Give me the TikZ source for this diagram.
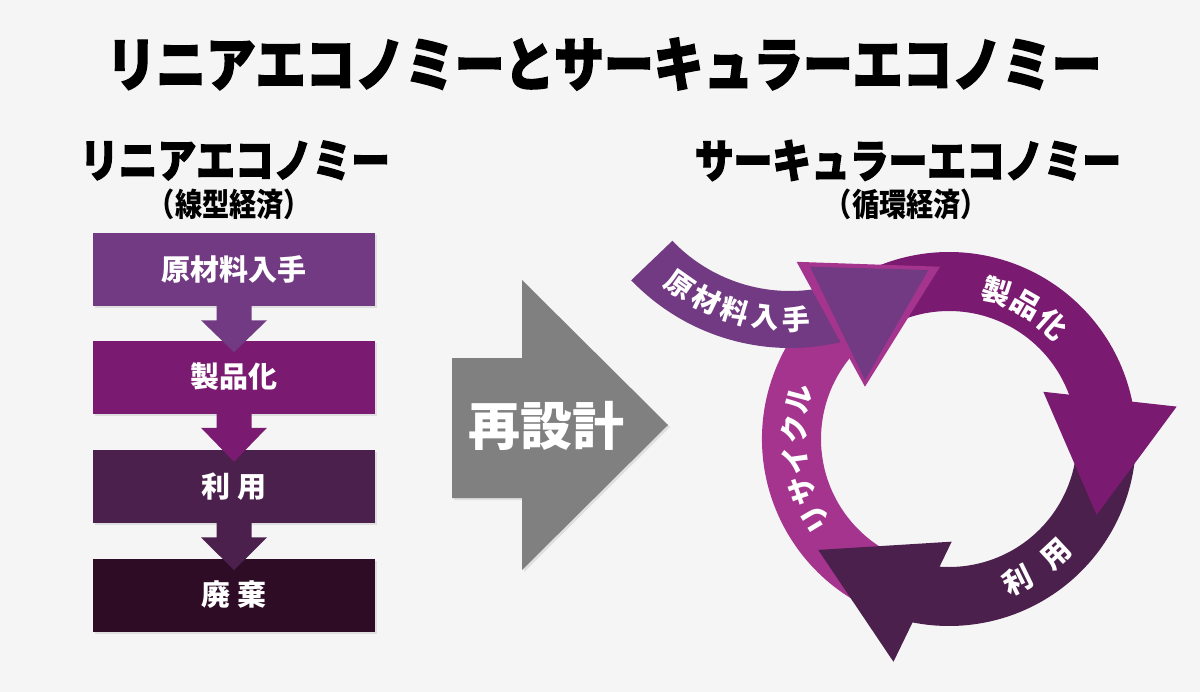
\documentclass[tikz,border=0pt]{standalone}
\usepackage{fontspec}
\setmainfont{Noto Sans CJK JP}
\newfontfamily\headfont{Noto Sans CJK JP}[FakeStretch=0.85, BoldFeatures={FakeBold=2.5}]
\newfontfamily\subfont{Noto Sans CJK JP}[FakeStretch=0.85]
\usetikzlibrary{calc,shadows}
\definecolor{bgGray}{RGB}{245,245,245}
\definecolor{colRaw}{RGB}{114,58,130}
\definecolor{colMake}{RGB}{123,26,113}
\definecolor{colUse}{RGB}{76,32,77}
\definecolor{colWaste}{RGB}{46,12,38}
\definecolor{colRecycle}{RGB}{165,52,143}
\definecolor{colRedesign}{RGB}{128,128,128}
\tikzset{
  softshadow/.style={drop shadow={opacity=0.18, shadow xshift=1.5pt, shadow yshift=-1.5pt}},
  stepbox/.style={minimum width=211.5pt, minimum height=54.75pt, inner sep=0pt, text=white,
    softshadow, font=\bfseries\fontsize{21.75}{26}\selectfont},
  titletext/.style={inner sep=0pt, font=\headfont\bfseries\fontsize{43.9}{50}\selectfont},
  headtext/.style={inner sep=0pt, font=\headfont\bfseries\fontsize{34.2}{40}\selectfont},
  subtext/.style={inner sep=0pt, font=\subfont\bfseries\fontsize{24}{28}\selectfont},
  ringtext/.style={inner sep=0pt, text=white, font=\bfseries\fontsize{21.75}{26}\selectfont},
  bandtext/.style={inner sep=0pt, text=white, font=\bfseries\fontsize{21}{25}\selectfont},
}
\begin{document}
\begin{tikzpicture}[x=0.75pt,y=0.75pt,yscale=-1,xscale=1]
%Background
\fill[bgGray] (0,0) rectangle (1200,692);
\useasboundingbox (0,0) rectangle (1200,692);

% Text Node
\node[titletext] (title) at (604,64) {リニアエコノミーとサーキュラーエコノミー};
% Text Node
\node[headtext] (linearhead) at (235,160.5) {リニアエコノミー};
\node[subtext] (linearsub) at (229.5,204) {（線型経済）};
% Text Node
\node[headtext] (circularhead) at (908,160.5) {サーキュラーエコノミー};
\node[subtext] (circularsub) at (906.5,204) {（循環経済）};

%Shape: Linear steps
\node[stepbox, fill=colRaw] (raw) at (234,269.5) {原材料入手};
\node[stepbox, fill=colMake] (make) at (234,377) {製品化};
\node[stepbox, fill=colUse] (use) at (234,486.5) {利 用};
\node[stepbox, fill=colWaste] (waste) at (234,595) {廃 棄};
\foreach \a/\b/\c in {raw/make/colRaw, make/use/colMake, use/waste/colUse}
  \fill[\c] ($(\a.south)+(-17.5,-1)$) -- ($(\a.south)+(-17.5,14)$) -- ($(\a.south)+(-33,14)$)
    -- ($(\b.north)+(0,12)$) -- ($(\a.south)+(33,14)$) -- ($(\a.south)+(17.5,14)$)
    -- ($(\a.south)+(17.5,-1)$) -- cycle;

%Shape: Redesign arrow
\fill[colRedesign, softshadow] (452,358) -- (522,358) -- (522,280) -- (668,425) -- (522,570) -- (522,498) -- (452,498) -- cycle;
% Text Node
\node[inner sep=0pt, text=white, font=\bfseries\fontsize{39}{44}\selectfont] (redesign) at (546,426) {再設計};

%Shape: Cycle arrows, bodies
\begin{scope}[shift={(949,439)}, yscale=-1]
  \foreach \s/\e/\c in {250/131.7/colRecycle, 122/9.1/colMake, 0/-103/colUse}
    \fill[\c] (\s:187) arc[start angle=\s, end angle=\e, radius=187] -- (\e:128)
      arc[start angle=\e, end angle=\s, radius=128] -- cycle;
\end{scope}

%Shape: Incoming band
\begin{scope}[shift={(790,128)}, yscale=-1]
  \fill[colRaw] (-136.2:163) -- (-136.2:220) arc[start angle=-136.2, end angle=-65, radius=220]
    -- (-65:163) arc[start angle=-65, end angle=-136.2, radius=163] -- cycle;
  \foreach \t/\a [count=\i] in {原/-125, 材/-115.8, 料/-106.6, 入/-97.4, 手/-88.2}
    \node[bandtext, rotate=\a+90] (band\i) at (\a:191.5) {\t};
\end{scope}

%Shape: Cycle arrows, heads and labels
\begin{scope}[shift={(949,439)}, yscale=-1]
  \fill[colMake] (8.1:230) -- (-27.2:166) -- (26.6:105.5) -- cycle;
  \fill[colUse] (-104:229.6) -- (-139.7:171.5) -- (-88.5:102.7) -- cycle;
  \fill[colRecycle] (130.7:233.7) -- (93:172.5) -- (148.1:99) -- cycle;
  \fill[colRaw] (-139,172.3) -- (-20.7,169) -- (-84,59) -- cycle;
  \foreach \t/\a [count=\i] in {製/72, 品/60, 化/48}
    \node[ringtext, rotate=\a-90] (make\i) at (\a:155) {\t};
  \foreach \t/\a [count=\i] in {利/-64, 用/-47}
    \node[ringtext, rotate=\a+90] (use\i) at (\a:157) {\t};
  \foreach \t/\a [count=\i] in {リ/211, サ/199.5, イ/188, ク/176.5, ル/165}
    \node[ringtext, rotate=\a-90] (recycle\i) at (\a:155) {\t};
\end{scope}
\end{tikzpicture}
\end{document}
